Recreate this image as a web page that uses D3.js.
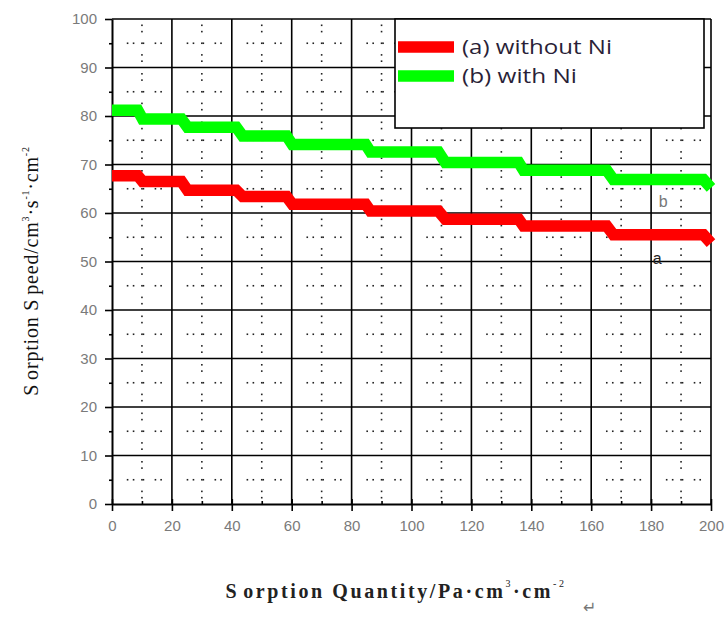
<!DOCTYPE html>
<html><head><meta charset="utf-8">
<script src="https://cdn.jsdelivr.net/npm/d3@7"></script>
<style>body{margin:0;background:#fff;overflow:hidden}</style>
</head><body><svg id="c" width="726" height="618"></svg>
<script>
// ---- data ----
const stepX   = [0, 8.6, 10.2, 23.2, 25.2, 41.5, 43.6, 58.3, 60.2, 84.7, 86.3, 109, 111.3, 135.8, 137.4, 165.2, 167.4, 197.5, 200];
const seriesA = [67.7, 67.7, 66.5, 66.5, 64.7, 64.7, 63.4, 63.4, 61.8, 61.8, 60.4, 60.4, 58.7, 58.7, 57.3, 57.3, 55.5, 55.5, 53.8]; // (a) without Ni
const seriesB = [81.2, 81.2, 79.4, 79.4, 77.7, 77.7, 75.9, 75.9, 74.1, 74.1, 72.6, 72.6, 70.4, 70.4, 68.8, 68.8, 66.9, 66.9, 65.2]; // (b) with Ni
const seriesNames  = ["(a) without Ni", "(b) with Ni"];
const seriesColors = ["#ff0000", "#00ff00"];
const curveTags    = ["a", "b"];
const curveTagPos  = [[182, 49.4], [184, 61.2]];
const xTickValues  = [0, 20, 40, 60, 80, 100, 120, 140, 160, 180, 200];
const yTickValues  = [0, 10, 20, 30, 40, 50, 60, 70, 80, 90, 100];
const xMinorValues = [10, 30, 50, 70, 90, 110, 130, 150, 170, 190];
const yMinorValues = [5, 15, 25, 35, 45, 55, 65, 75, 85, 95];

const svg = d3.select("#c");
const x = d3.scaleLinear().domain([0, 200]).range([112, 711]);
const y = d3.scaleLinear().domain([0, 100]).range([504, 19]);

// minor dotted grid
const dots = svg.append("g").attr("fill", "#222");
const hOff = [5.2, 7.2, 10.5, 14.5, 16.4];
const vOff = [1.3, 2.6, 5, 7.4, 8.7];
yMinorValues.forEach(yv => {
  d3.range(0, 200, 20).forEach(c => hOff.forEach(o => {
    dots.append("rect").attr("x", x(c + o) - 0.8).attr("y", y(yv) - 0.8).attr("width", 1.6).attr("height", 1.6);
  }));
});
xMinorValues.forEach(xv => {
  d3.range(0, 100, 10).forEach(c => vOff.forEach(o => {
    dots.append("rect").attr("x", x(xv) - 0.8).attr("y", y(c + o) - 0.8).attr("width", 1.6).attr("height", 1.6);
  }));
});

// major grid
const grid = svg.append("g").attr("stroke", "#000").attr("stroke-width", 1.6);
grid.selectAll(".gx").data(xTickValues.slice(1)).join("line")
  .attr("x1", d => x(d)).attr("x2", d => x(d)).attr("y1", y(0)).attr("y2", y(100));
grid.selectAll(".gy").data(yTickValues.slice(1)).join("line")
  .attr("x1", x(0)).attr("x2", x(200)).attr("y1", d => y(d)).attr("y2", d => y(d));

// axes
const labFont = "Liberation Sans, Arial, sans-serif";
const gx = svg.append("g").attr("transform", `translate(0,${y(0)})`)
  .call(d3.axisBottom(x).tickValues(xTickValues).tickSize(7).tickSizeOuter(0).tickPadding(9));
gx.selectAll(".tick line").clone().attr("y2", -5);
const gxm = svg.append("g").attr("transform", `translate(0,${y(0)})`)
  .call(d3.axisTop(x).tickValues(xMinorValues).tickSize(3).tickFormat(""));
gxm.select(".domain").remove();
const gy = svg.append("g").attr("transform", `translate(${x(0)},0)`)
  .call(d3.axisLeft(y).tickValues(yTickValues).tickSize(7).tickSizeOuter(0).tickPadding(8));
const gym = svg.append("g").attr("transform", `translate(${x(0)},0)`)
  .call(d3.axisLeft(y).tickValues(yMinorValues).tickSize(3).tickFormat(""));
gym.select(".domain").remove();
[gx, gxm, gy, gym].forEach(g => {
  g.selectAll("line").attr("stroke", "#000").attr("stroke-width", 1.6);
  g.selectAll(".domain").attr("stroke", "#000").attr("stroke-width", 2);
  g.selectAll("text").attr("fill", "#7a7a7a").attr("font-family", labFont).attr("font-size", 15);
});

// series
const line = d3.line().x((d, i) => x(stepX[i])).y(d => y(d));
[seriesA, seriesB].forEach((s, i) => {
  svg.append("path").datum(s).attr("d", line).attr("fill", "none")
    .attr("stroke", seriesColors[i]).attr("stroke-width", 11.5).attr("stroke-linejoin", "miter");
});

// curve tags
svg.selectAll(".tag").data(curveTags).join("text")
  .attr("x", (d, i) => x(curveTagPos[i][0])).attr("y", (d, i) => y(curveTagPos[i][1]))
  .attr("text-anchor", "middle").attr("font-family", labFont).attr("font-size", 16)
  .attr("fill", (d, i) => i === 0 ? "#222" : "#777").text(d => d);

// legend
const lg = svg.append("g");
lg.append("rect").attr("x", 395).attr("y", 19).attr("width", 309).attr("height", 109)
  .attr("fill", "#fff").attr("stroke", "#000").attr("stroke-width", 1.6);
const legendWidths = [150, 115];
seriesNames.forEach((n, i) => {
  const cy = 47 + i * 29;
  lg.append("line").attr("x1", 398).attr("x2", 454).attr("y1", cy).attr("y2", cy)
    .attr("stroke", seriesColors[i]).attr("stroke-width", 11.5);
  lg.append("text").attr("x", 462).attr("y", cy + 7).attr("font-family", "Open Sans, sans-serif")
    .attr("font-size", 20).attr("fill", "#2a1f38")
    .attr("textLength", legendWidths[i]).attr("lengthAdjust", "spacingAndGlyphs").text(n);
});

// axis titles
const serif = "Liberation Serif, Times New Roman, serif";
const yt = svg.append("text").attr("transform", "translate(38,271) rotate(-90)")
  .attr("text-anchor", "middle").attr("font-family", serif).attr("font-size", 20)
  .attr("letter-spacing", 0.8).attr("fill", "#111");
yt.append("tspan").text("S");
yt.append("tspan").attr("dx", 4).text("orption S");
yt.append("tspan").attr("dx", 4).text("peed/cm");
yt.append("tspan").attr("dy", -9).attr("font-size", 10).text("3");
yt.append("tspan").attr("dy", 9).text("·s");
yt.append("tspan").attr("dy", -9).attr("font-size", 10).text("-1");
yt.append("tspan").attr("dy", 9).text("·cm");
yt.append("tspan").attr("dy", -9).attr("font-size", 10).text("-2");

const xt = svg.append("text").attr("x", 396).attr("y", 598)
  .attr("text-anchor", "middle").attr("font-family", serif).attr("font-size", 20)
  .attr("font-weight", "bold").attr("letter-spacing", 2.6).attr("fill", "#222");
xt.append("tspan").text("S");
xt.append("tspan").attr("dx", 4).text("orption Quantity/Pa·cm");
xt.append("tspan").attr("dy", -11).attr("font-size", 10).attr("font-weight", "normal").text("3");
xt.append("tspan").attr("dy", 11).text("·cm");
xt.append("tspan").attr("dy", -11).attr("font-size", 10).attr("font-weight", "normal").text("-2");
svg.append("text").attr("x", 583).attr("y", 613).attr("font-family", "DejaVu Sans, sans-serif")
  .attr("font-size", 16).attr("fill", "#777").text("↵");
</script></body></html>
